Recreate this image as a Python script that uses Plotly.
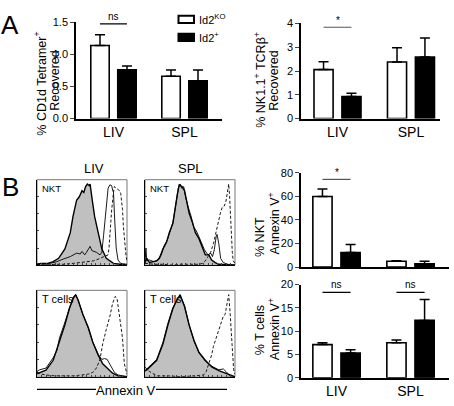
import plotly.graph_objects as go

W, H = 454, 406
FONT = "Liberation Sans, Arial, Helvetica, sans-serif"

# ---------------- bar data ----------------
CATS = ["LIV", "SPL"]
A1_KO = [1.14, 0.66]
A1_KO_ERR = [0.17, 0.10]
A1_WT = [0.76, 0.59]
A1_WT_ERR = [0.06, 0.17]

A2_KO = [2.06, 2.38]
A2_KO_ERR = [0.33, 0.60]
A2_WT = [0.93, 2.59]
A2_WT_ERR = [0.13, 0.80]

B1_KO = [60.0, 4.9]
B1_KO_ERR = [6.3, 0.5]
B1_WT = [12.3, 2.7]
B1_WT_ERR = [6.8, 2.2]

B2_KO = [7.1, 7.5]
B2_KO_ERR = [0.4, 0.6]
B2_WT = [5.3, 12.3]
B2_WT_ERR = [0.7, 4.5]

# ---------------- histogram data (x: 0-100 channel, y: % of max) ----------------
LIV_NKT_GRAY = [(0, 1), (5, 2), (12, 2), (18, 4), (24, 8), (31, 19), (37, 38), (40, 57), (44, 76), (47, 80),
                (50, 87), (52, 85), (54, 92), (56, 95), (58, 93), (59, 95), (61, 79), (64, 57), (68, 38),
                (72, 19), (77, 8), (85, 2), (92, 1), (100, 0)]
LIV_NKT_SOLID = [(0, 1), (4, 2), (10, 1), (15, 2), (22, 4), (29, 7), (37, 10), (44, 14), (48, 13), (50, 16),
                 (53, 12), (55, 15), (57, 18), (59, 22), (61, 17), (63, 16), (66, 15), (70, 12), (72, 15),
                 (74, 35), (76, 60), (78, 80), (79, 90), (81, 94), (83, 93), (84, 88), (85, 85), (86, 60),
                 (87, 40), (88, 20), (90, 6), (93, 2), (100, 1)]
LIV_NKT_DASH = [(0, 1), (10, 0), (20, 1), (30, 1), (40, 2), (50, 3), (58, 4), (63, 5), (68, 7), (72, 9),
                (76, 11), (79, 12), (80, 20), (81, 40), (83, 65), (85, 85), (86, 92), (88, 90), (90, 88),
                (92, 87), (93, 84), (94, 75), (95, 65), (96, 45), (97, 30), (98, 18), (99, 10), (100, 5)]

SPL_NKT_GRAY = [(0, 3), (2, 8), (5, 3), (10, 4), (13, 5), (16, 8), (20, 19), (24, 27), (27, 38), (31, 49),
                (33, 64), (36, 83), (38, 94), (40, 93), (41, 92), (44, 87), (46, 76), (49, 61), (53, 49),
                (56, 38), (60, 31), (64, 19), (67, 12), (71, 12), (74, 6), (78, 3), (82, 1), (100, 0)]
SPL_NKT_SOLID = [(0, 2), (1, 20), (2, 5), (5, 6), (10, 4), (14, 6), (18, 12), (21, 22), (25, 30), (28, 40),
                 (31, 50), (34, 70), (37, 90), (39, 95), (41, 90), (43, 92), (45, 80), (48, 68), (51, 58),
                 (54, 45), (57, 40), (60, 33), (63, 25), (66, 18), (70, 12), (73, 14), (75, 10), (77, 18),
                 (79, 33), (80, 36), (82, 25), (84, 8), (87, 3), (92, 1), (100, 0)]
SPL_NKT_DASH = [(0, 2), (10, 1), (20, 1), (30, 0), (40, 1), (50, 1), (60, 1), (64, 2), (67, 5), (70, 10),
                (73, 15), (76, 25), (78, 35), (81, 48), (84, 62), (86, 68), (88, 69), (90, 75), (92, 90),
                (93, 95), (94, 80), (95, 55), (96, 35), (97, 15), (98, 5), (100, 2)]

LIV_T_GRAY = [(0, 3), (1, 4), (10, 7.5), (18, 19), (25, 41), (31, 60), (36, 79), (40, 90), (43, 95),
              (45.5, 89), (51, 72), (57, 57), (62, 40), (68, 25), (73, 15), (79, 9), (84, 4), (90, 1), (100, 0)]
LIV_T_SOLID = [(0, 6), (3, 8), (10, 10), (18, 22), (22, 30), (25, 45), (30, 60), (36, 80), (40, 92), (43, 95),
               (46, 88), (51, 72), (57, 56), (62, 40), (68, 26), (72, 20), (75, 21), (78, 20), (82, 12),
               (86, 5), (90, 2), (100, 0)]
LIV_T_DASH = [(0, 5), (5, 3), (10, 2), (20, 1), (30, 1), (40, 1), (50, 2), (57, 3), (62, 5), (66, 10),
              (70, 20), (73, 38), (77, 55), (81, 70), (84, 85), (87, 93), (89, 90), (91, 75), (93, 57),
              (95, 45), (97, 15), (99, 5), (100, 3)]

SPL_T_GRAY = [(0, 7), (2, 8), (13, 19), (20, 38), (25.5, 60), (31, 79), (36, 90), (39, 95), (44, 81),
              (49, 60), (54.5, 42), (60, 28), (67, 19), (74.5, 11), (82, 7), (89, 4), (94.5, 2), (100, 0)]
SPL_T_SOLID = [(0, 6), (2, 9), (13, 20), (20, 40), (25.5, 62), (31, 80), (36, 90), (39, 94), (44, 82),
               (49, 60), (54.5, 41), (60, 28), (67, 18), (74.5, 12), (82, 8), (87, 9), (90, 6), (94, 1),
               (100, 0)]
SPL_T_DASH = [(0, 11), (5, 6), (10, 3), (14, 1), (25, 1), (40, 0), (55, 1), (65, 2), (68, 6), (71, 15),
              (74, 25), (76, 35), (79, 45), (82, 55), (85, 65), (87, 70), (89, 72), (91, 85), (93, 95),
              (94.5, 75), (96, 45), (97, 25), (98.5, 8), (100, 3)]


def dx(a, b):
    return [a / W, b / W]


def dy(top, bottom):
    return [1 - bottom / H, 1 - top / H]


fig = go.Figure()
layout = dict(
    width=W, height=H, margin=dict(l=0, r=0, t=0, b=0),
    paper_bgcolor="white", plot_bgcolor="rgba(0,0,0,0)",
    showlegend=False, barmode="overlay",
    font=dict(family=FONT, color="black", size=11),
)
shapes = []
annotations = []

OFF_KO, OFF_WT, BW = -0.32, 0.06, 0.26
C_KO = OFF_KO + BW / 2
C_WT = OFF_WT + BW / 2


def bar_panel(i, ko, ko_err, wt, wt_err, xdom, ydom, xr, yr, tickvals, ticktext):
    xa, ya = f"x{i}", f"y{i}"
    fig.add_trace(go.Bar(x=CATS, y=ko, xaxis=xa, yaxis=ya, offset=OFF_KO, width=BW,
                         marker=dict(color="white", line=dict(color="black", width=1.6)),
                         error_y=dict(type="data", symmetric=False, array=ko_err, arrayminus=[0, 0],
                                      color="black", thickness=1.5, width=5)))
    fig.add_trace(go.Bar(x=CATS, y=wt, xaxis=xa, yaxis=ya, offset=OFF_WT, width=BW,
                         marker=dict(color="black", line=dict(color="black", width=1.6)),
                         error_y=dict(type="data", symmetric=False, array=wt_err, arrayminus=[0, 0],
                                      color="black", thickness=1.5, width=5)))
    layout[f"xaxis{i}"] = dict(domain=xdom, anchor=ya, range=xr, type="category", showline=True,
                               linecolor="black", linewidth=1.5, ticks="", ticklen=0, showgrid=False,
                               tickfont=dict(size=14), fixedrange=True)
    layout[f"yaxis{i}"] = dict(domain=ydom, anchor=xa, range=yr, showline=True, linecolor="black",
                               linewidth=1.5, ticks="outside", ticklen=4, tickwidth=1.3,
                               tickvals=tickvals, ticktext=ticktext, showgrid=False, zeroline=False,
                               tickfont=dict(size=11), fixedrange=True)


bar_panel(1, A1_KO, A1_KO_ERR, A1_WT, A1_WT_ERR, dx(76, 222), dy(17, 116), [-0.528, 1.528], [0, 1.5],
          [0, 0.5, 1.0, 1.5], ["0.0", "0.5", "1.0", "1.5"])
bar_panel(2, A2_KO, A2_KO_ERR, A2_WT, A2_WT_ERR, dx(301, 440), dy(18, 116), [-0.497, 1.395], [0, 4],
          [0, 1, 2, 3, 4], ["0", "1", "2", "3", "4"])
bar_panel(3, B1_KO, B1_KO_ERR, B1_WT, B1_WT_ERR, dx(301, 449), dy(172, 269), [-0.48, 1.52], [0, 80],
          [0, 20, 40, 60, 80], ["0", "20", "40", "60", "80"])
bar_panel(4, B2_KO, B2_KO_ERR, B2_WT, B2_WT_ERR, dx(301, 449), dy(287, 383), [-0.48, 1.52], [0, 20],
          [0, 5, 10, 15, 20], ["0", "5", "10", "15", "20"])
layout["xaxis3"]["showticklabels"] = False


def bracket(i, center, yv, label, color="black"):
    shapes.append(dict(type="line", xref=f"x{i}", yref=f"y{i}", x0=center + C_KO, x1=center + C_WT,
                       y0=yv, y1=yv, line=dict(color=color, width=1.2)))
    annotations.append(dict(xref=f"x{i}", yref=f"y{i}", x=center, y=yv, text=label, showarrow=False,
                            yanchor="bottom", yshift=-1 if label == "*" else 0,
                            font=dict(size=10, color="black")))


bracket(1, 0, 1.48, "ns")
bracket(2, 0, 3.84, "*", "#555")
bracket(3, 0, 74.5, "*", "#555")
bracket(4, 0, 18.3, "ns")
bracket(4, 1, 18.3, "ns")

# y-axis titles: one rotated annotation per line (pixel centres)
TITLE_LINES = [
    ("% CD1d Tetramer<sup>+</sup>", 40, 80),
    ("Recovered", 55, 77),
    ("% NK1.1<sup>+</sup> TCRβ<sup>+</sup>", 260, 76),
    ("Recovered", 274, 77),
    ("% NKT", 260, 238),
    ("Annexin V<sup>+</sup>", 274, 224),
    ("% T cells", 260, 334),
    ("Annexin V<sup>+</sup>", 274, 333),
]
for txt, x, y in TITLE_LINES:
    annotations.append(dict(xref="paper", yref="paper", x=x / W, y=1 - y / H, text=txt, textangle=-90,
                            showarrow=False, font=dict(size=12.5), xanchor="center", yanchor="middle"))

# legend
for yt, lab, col in [(10, "Id2<sup>KO</sup>", "white"), (28.5, "Id2<sup>+</sup>", "black")]:
    shapes.append(dict(type="rect", xref="paper", yref="paper", x0=178.5 / W, x1=194 / W,
                       y0=1 - (yt + 7.5) / H, y1=1 - yt / H, fillcolor=col,
                       line=dict(color="black", width=2)))
    annotations.append(dict(xref="paper", yref="paper", x=197 / W, y=1 - (yt + 3.5) / H, text=lab,
                            showarrow=False, xanchor="left", yanchor="middle", font=dict(size=11)))

# panel letters
annotations.append(dict(xref="paper", yref="paper", x=10 / W, y=1 - 20 / H, text="A", showarrow=False,
                        font=dict(size=26), xanchor="center", yanchor="middle"))
annotations.append(dict(xref="paper", yref="paper", x=10 / W, y=1 - 186 / H, text="B", showarrow=False,
                        font=dict(size=26), xanchor="center", yanchor="middle"))

# ---------------- histograms ----------------
HISTS = [
    (5, LIV_NKT_GRAY, LIV_NKT_SOLID, LIV_NKT_DASH, dx(37, 127), dy(179, 267), "NKT"),
    (6, SPL_NKT_GRAY, SPL_NKT_SOLID, SPL_NKT_DASH, dx(145, 235), dy(179, 267), "NKT"),
    (7, LIV_T_GRAY, LIV_T_SOLID, LIV_T_DASH, dx(37, 127), dy(293, 382), "T cells"),
    (8, SPL_T_GRAY, SPL_T_SOLID, SPL_T_DASH, dx(145, 235), dy(293, 382), "T cells"),
]
for i, g, s, d, xdom, ydom, lab in HISTS:
    xa, ya = f"x{i}", f"y{i}"
    fig.add_trace(go.Scatter(x=[p[0] for p in g], y=[p[1] for p in g], xaxis=xa, yaxis=ya, mode="lines",
                             fill="tozeroy", fillcolor="#c0c0c0", line=dict(color="black", width=1.4)))
    fig.add_trace(go.Scatter(x=[p[0] for p in s], y=[p[1] for p in s], xaxis=xa, yaxis=ya, mode="lines",
                             line=dict(color="black", width=0.9)))
    fig.add_trace(go.Scatter(x=[p[0] for p in d], y=[p[1] for p in d], xaxis=xa, yaxis=ya, mode="lines",
                             line=dict(color="black", width=0.9, dash="3px,2px")))
    layout[f"xaxis{i}"] = dict(domain=xdom, anchor=ya, range=[0, 100], showline=True, linecolor="black",
                               linewidth=1.2, ticks="inside", ticklen=2, dtick=5, showticklabels=False,
                               showgrid=False, zeroline=False, fixedrange=True)
    layout[f"yaxis{i}"] = dict(domain=ydom, anchor=xa, range=[0, 100], showline=True, linecolor="black",
                               linewidth=1.2, ticks="inside", ticklen=2, dtick=20, showticklabels=False,
                               showgrid=False, zeroline=False, fixedrange=True)
    shapes.append(dict(type="rect", xref=f"{xa} domain", yref=f"{ya} domain", x0=0, x1=1, y0=0, y1=1,
                       line=dict(color="#777", width=1), layer="below"))
    annotations.append(dict(xref=f"{xa} domain", yref=f"{ya} domain", x=0.03, y=0.99, text=lab,
                            showarrow=False, xanchor="left", yanchor="top",
                            font=dict(size=9.5 if lab == "NKT" else 11)))

annotations.append(dict(xref="paper", yref="paper", x=82 / W, y=1 - 167 / H, text="LIV", showarrow=False,
                        font=dict(size=13)))
annotations.append(dict(xref="paper", yref="paper", x=190 / W, y=1 - 167 / H, text="SPL", showarrow=False,
                        font=dict(size=13)))

# Annexin V label with lines
annotations.append(dict(xref="paper", yref="paper", x=126 / W, y=1 - 396 / H, text="Annexin V",
                        showarrow=False, font=dict(size=13), xanchor="center", yanchor="middle"))
for a, b in [(37, 96), (156, 227)]:
    shapes.append(dict(type="line", xref="paper", yref="paper", x0=a / W, x1=b / W,
                       y0=1 - 395 / H, y1=1 - 395 / H, line=dict(color="black", width=1.3)))

layout["shapes"] = shapes
layout["annotations"] = annotations
fig.update_layout(**layout)
fig.write_html("out.html", config={"displayModeBar": False},
               post_script="document.body.style.margin='0px';document.body.style.padding='0px';")
